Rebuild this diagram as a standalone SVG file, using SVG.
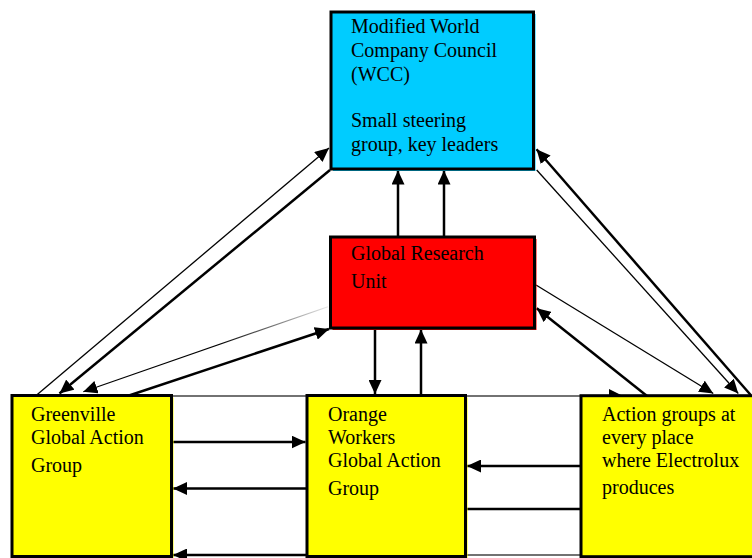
<svg xmlns="http://www.w3.org/2000/svg" width="752" height="558" viewBox="0 0 752 558">
<defs>
<marker id="ah" markerUnits="userSpaceOnUse" markerWidth="14" markerHeight="13" refX="14" refY="6.5" orient="auto"><path d="M0,0 L14,6.5 L0,13 z" fill="#000"/></marker>
<linearGradient id="fade" gradientUnits="userSpaceOnUse" x1="328" y1="307" x2="220" y2="347"><stop offset="0" stop-color="#e8e8e8"/><stop offset="1" stop-color="#000"/></linearGradient>
<style>
.box{stroke:#000;stroke-width:3}
.t{font-family:"Liberation Serif","Times New Roman",serif;font-size:20px;fill:#000}
.c{stroke:#000;fill:none}
.w1{stroke-width:1.3}
.w2{stroke-width:2.5}
.grid{stroke:#444;stroke-width:1.5;fill:none}
.a{marker-end:url(#ah)}
</style>
</defs>
<rect width="752" height="558" fill="#fff"/>
<g id="connectors">
<path class="grid" d="M171,396 H307 M466,396 H581 M466,555 H581"/>
<path class="c w2 a" d="M307,555 H173"/>
<path class="c w2 a" d="M173,442 H305.5"/>
<path class="c w2 a" d="M307,488.5 H173"/>
<path class="c w2 a" d="M581,466 H467"/>
<path class="c w2" d="M466,509 H581"/>
<polygon points="609,389 623,396 609,403" fill="#000"/>
<path class="c w2 a" d="M398,237 V170.5"/>
<path class="c w2 a" d="M444,237 V170.5"/>
<path class="c w2 a" d="M375,328 V394"/>
<path class="c w2 a" d="M421,395 V329.5"/>
<path class="c w1 a" d="M36.7,395 L329,148"/>
<path class="c w2 a" d="M330,170 L59.5,393.5"/>
<path class="a" d="M328,306.7 L83.3,391.7" stroke="url(#fade)" stroke-width="1.2" fill="none"/>
<path class="c w2 a" d="M128.3,395.7 L329,329"/>
<path class="c w2 a" d="M750.7,395 L536.5,149.3"/>
<path class="c w1 a" d="M536.7,170 L738.3,393.5"/>
<path class="c w1 a" d="M536,285 L713.3,393.5"/>
<path class="c w2 a" d="M646.7,395.7 L536.7,308.3"/>
</g>
<g id="wcc">
<rect x="333" y="14" width="202.5" height="157" fill="#00CCFF"/>
<rect class="box" x="331" y="12" width="202.5" height="157" fill="#00CCFF"/>
<text class="t" x="351" y="33">Modified World</text>
<text class="t" x="351" y="57">Company Council</text>
<text class="t" x="351" y="81">(WCC)</text>
<text class="t" x="351" y="127">Small steering</text>
<text class="t" x="351" y="151">group, key leaders</text>
</g>
<g id="gru">
<rect x="332.5" y="239" width="204" height="91" fill="#FF0000"/>
<rect class="box" x="330.5" y="237" width="204" height="91" fill="#FF0000"/>
<text class="t" x="351" y="260">Global Research</text>
<text class="t" x="351" y="288">Unit</text>
</g>
<g id="greenville">
<rect x="14" y="397.5" width="159.5" height="161" fill="#FFFF00"/>
<rect class="box" x="12" y="395.5" width="159.5" height="161" fill="#FFFF00"/>
<text class="t" x="31" y="421">Greenville</text>
<text class="t" x="31" y="444">Global Action</text>
<text class="t" x="31" y="472">Group</text>
</g>
<g id="orange">
<rect x="309" y="397.5" width="158.5" height="161" fill="#FFFF00"/>
<rect class="box" x="307" y="395.5" width="158.5" height="161" fill="#FFFF00"/>
<text class="t" x="328" y="421">Orange</text>
<text class="t" x="328" y="444">Workers</text>
<text class="t" x="328" y="467">Global Action</text>
<text class="t" x="328" y="495">Group</text>
</g>
<g id="action">
<rect class="box" x="581" y="395.7" width="173" height="161" fill="#FFFF00"/>
<text class="t" x="602" y="421">Action groups at</text>
<text class="t" x="602" y="444">every place</text>
<text class="t" x="602" y="467">where Electrolux</text>
<text class="t" x="602" y="494">produces</text>
</g>
</svg>
